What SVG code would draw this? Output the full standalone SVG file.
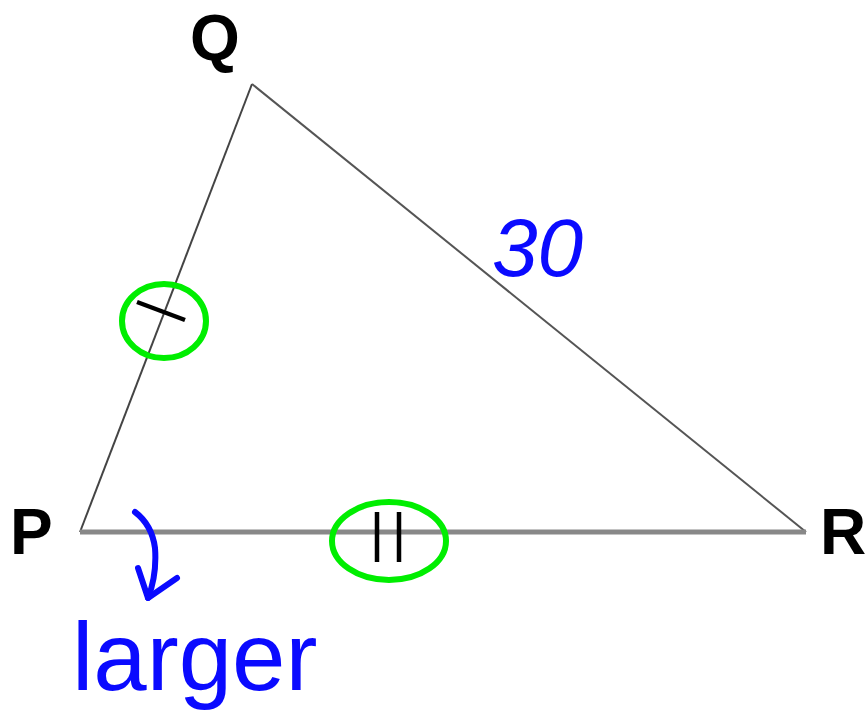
<svg xmlns="http://www.w3.org/2000/svg" width="867" height="719" viewBox="0 0 867 719">
<style>
.lbl{font-family:"Liberation Sans",Arial,sans-serif;font-weight:bold;fill:#000}
.hand{font-family:"Liberation Sans",Arial,sans-serif;fill:#0a0aff}
.ring{fill:none;stroke:#00ee00;stroke-width:6}
.tick{stroke:#000;stroke-width:4.5;stroke-linecap:butt}
</style>
<rect width="867" height="719" fill="#fff"/>
<g id="connectors">
<line x1="80" y1="532" x2="252" y2="84" stroke="#444" stroke-width="2"/>
<line x1="252" y1="84" x2="806" y2="532" stroke="#555" stroke-width="2"/>
<line x1="80" y1="532" x2="806" y2="532" stroke="#888" stroke-width="5"/>
</g>
<g id="node-Q"><text class="lbl" x="190" y="60" font-size="64">Q</text></g>
<g id="node-P"><text class="lbl" x="10" y="554" font-size="64">P</text></g>
<g id="node-R"><text class="lbl" x="820" y="554" font-size="64">R</text></g>
<g id="mark-PQ">
<ellipse class="ring" cx="164" cy="321" rx="42" ry="37"/>
<line class="tick" x1="137" y1="302" x2="185" y2="320"/>
</g>
<g id="mark-PR">
<ellipse class="ring" cx="389" cy="541" rx="57" ry="39"/>
<line class="tick" x1="377" y1="512" x2="377" y2="562"/>
<line class="tick" x1="399" y1="512" x2="399" y2="562"/>
</g>
<g id="label-30"><text class="hand" x="492" y="276" font-size="82" font-style="italic">30</text></g>
<g id="arrow-larger">
<path d="M135 512 Q152 525 155 548 Q157 575 148 598" fill="none" stroke="#0a0aff" stroke-width="6" stroke-linecap="round"/>
<path d="M138 568 L148 598 L177 578" fill="none" stroke="#0a0aff" stroke-width="6" stroke-linecap="round" stroke-linejoin="round"/>
</g>
<g id="label-larger"><text class="hand" x="72" y="690" font-size="96">larger</text></g>
</svg>
